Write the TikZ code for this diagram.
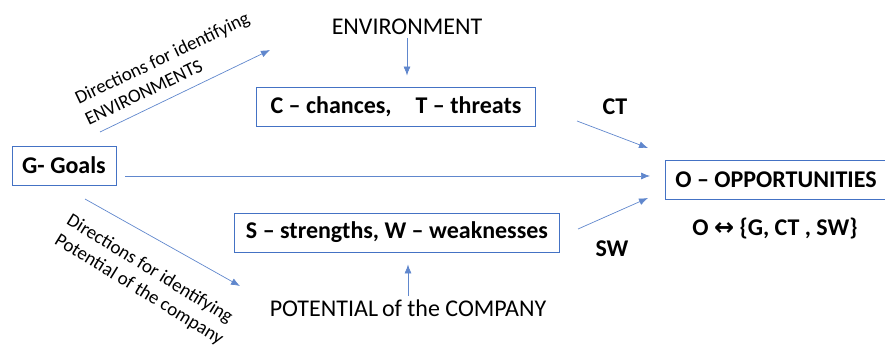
\documentclass[tikz,border=0pt]{standalone}
\usepackage{fontspec}
\setmainfont{Carlito}
\newfontfamily\symfont{DejaVu Sans}
\usetikzlibrary{arrows.meta}

\definecolor{offblue}{RGB}{68,114,196}

\begin{document}
\begin{tikzpicture}[x=1pt,y=-1pt,>={Latex[length=9pt,width=7pt]},
  box/.style={draw=offblue,rectangle,line width=0.9pt,minimum height=39pt,font=\fontsize{24}{26}\selectfont\bfseries},
  conn/.style={->,draw=offblue!85,line width=0.7pt},
  side/.style={font=\fontsize{19}{23}\selectfont,align=left,inner sep=0pt}]
  \useasboundingbox (0,0) rectangle (885,347);

  \node (env) at (407,27) [font=\fontsize{24}{26}\selectfont] {ENVIRONMENT};
  \node (ct) at (396,106.5) [box, minimum width=279pt] {C -- chances,\quad T -- threats};
  \node (goals) at (64,165.5) [box, minimum width=104pt] {G- Goals};
  \node (opp) at (776,179.5) [box, minimum width=222pt] {O -- OPPORTUNITIES};
  \node (rel) at (775,229) [font=\fontsize{24}{26}\selectfont\bfseries] {O {\symfont\bfseries ↔} \{G, CT , SW\}};
  \node (sw) at (397,232.5) [box, minimum width=325pt] {S -- strengths, W -- weaknesses};
  \node (pot) at (408,308) [font=\fontsize{24}{26}\selectfont] {POTENTIAL\,of the COMPANY};
  \node (ctl) at (615,107) [font=\fontsize{24}{26}\selectfont\bfseries] {CT};
  \node (swl) at (612,249) [font=\fontsize{24}{26}\selectfont\bfseries] {SW};

  % free ends of the arrows
  \coordinate (envup) at (270,50);
  \coordinate (envdn) at (100,132);
  \coordinate (potup) at (85,199);
  \coordinate (potdn) at (240,286);
  \coordinate (cta) at (577,121);
  \coordinate (ctb) at (648,148);
  \coordinate (swa) at (578,229);
  \coordinate (swb) at (648,198);
  \coordinate (ga) at (125,176);
  \coordinate (gb) at (650,176);

  \draw[conn,shorten >=11pt] (env.south) -- (env.south |- ct.north);
  \draw[conn,shorten >=12pt] (pot.north) -- (pot.north |- sw.south);
  \draw[conn] (envdn) -- (envup);
  \draw[conn] (potup) -- (potdn);
  \draw[conn] (cta) -- (ctb);
  \draw[conn] (swa) -- (swb);
  \draw[conn] (ga) -- (gb);

  \node (direnv) at (167,68) [side, rotate=25.5] {Directions for identifying\\ENVIRONMENTS};
  \node (dirpot) at (145,280) [side, rotate=-31.5] {Directions for identifying\\Potential of the company};
\end{tikzpicture}
\end{document}
